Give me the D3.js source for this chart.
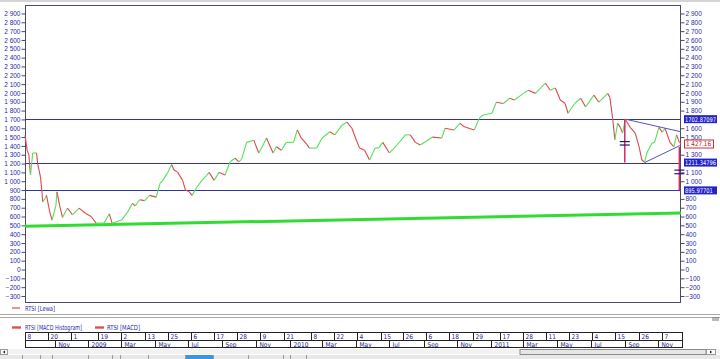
<!DOCTYPE html>
<html>
<head>
<meta charset="utf-8">
<script src="https://cdn.jsdelivr.net/npm/d3@7"></script>
<style>
body { margin: 0; background: #fff; overflow: hidden; }
svg { display: block; font-family: 'Liberation Sans Narrow', 'DejaVu Sans Condensed', 'Liberation Sans', sans-serif; }
</style>
</head>
<body>
<div id="chart"></div>
<script>
// RTSI daily
const priceDates = ["2008-09-08","2008-09-12","2008-09-15","2008-09-18","2008-09-22","2008-09-29","2008-10-01","2008-10-06","2008-10-09","2008-10-10","2008-10-14","2008-10-17","2008-10-23","2008-10-27","2008-11-03","2008-11-05","2008-11-10","2008-11-15","2008-11-24","2008-12-03","2008-12-15","2008-12-27","2009-01-06","2009-01-15","2009-01-29","2009-02-08","2009-02-13","2009-03-02","2009-03-13","2009-03-22","2009-03-27","2009-04-04","2009-04-13","2009-04-22","2009-05-04","2009-05-11","2009-05-16","2009-05-25","2009-06-01","2009-06-05","2009-06-12","2009-06-21","2009-06-26","2009-07-03","2009-07-08","2009-07-17","2009-07-26","2009-08-03","2009-08-08","2009-08-17","2009-08-26","2009-09-06","2009-09-15","2009-09-24","2009-10-01","2009-10-06","2009-10-15","2009-10-28","2009-11-06","2009-11-13","2009-11-20","2009-12-02","2009-12-08","2009-12-17","2009-12-26","2010-01-08","2010-01-15","2010-01-22","2010-02-01","2010-02-06","2010-02-19","2010-03-01","2010-03-15","2010-03-24","2010-04-06","2010-04-15","2010-04-24","2010-05-03","2010-05-08","2010-05-17","2010-05-26","2010-06-05","2010-06-12","2010-06-19","2010-07-01","2010-07-15","2010-07-30","2010-08-08","2010-08-17","2010-08-26","2010-09-05","2010-09-17","2010-10-04","2010-10-10","2010-10-26","2010-11-06","2010-11-13","2010-11-22","2010-12-02","2010-12-11","2010-12-18","2011-01-03","2011-01-11","2011-01-24","2011-02-04","2011-02-13","2011-03-01","2011-03-10","2011-03-23","2011-04-03","2011-04-10","2011-04-19","2011-04-28","2011-05-07","2011-05-16","2011-05-21","2011-06-02","2011-06-13","2011-06-22","2011-07-07","2011-07-16","2011-08-01","2011-08-05","2011-08-10","2011-08-14","2011-08-19","2011-08-24","2011-08-28","2011-09-02","2011-09-11","2011-09-20","2011-09-27","2011-10-02","2011-10-07","2011-10-11","2011-10-20","2011-10-25","2011-11-02","2011-11-08","2011-11-13","2011-11-22","2011-11-29","2011-12-04","2011-12-09","2011-12-12"]
const priceValues = [1520,1350,1300,1070,1320,1320,1200,1050,870,765,800,840,650,560,720,880,720,590,695,620,695,635,600,525,525,630,525,560,650,750,720,790,780,840,820,975,1010,1100,1190,1130,1100,1010,900,880,840,935,1010,1060,1100,1010,1100,1070,1220,1260,1220,1250,1440,1465,1320,1400,1490,1320,1390,1350,1440,1440,1580,1490,1420,1375,1375,1490,1560,1525,1635,1670,1600,1450,1375,1350,1240,1375,1380,1440,1320,1410,1525,1525,1440,1410,1450,1500,1490,1600,1580,1655,1620,1600,1580,1715,1750,1770,1895,1880,1940,1920,1995,2030,1995,2065,2110,2030,2055,1920,1880,1770,1880,1940,1840,1975,1895,1995,1950,1715,1470,1655,1610,1545,1700,1610,1545,1390,1240,1215,1320,1430,1440,1610,1555,1600,1440,1390,1525,1440,1427]

const yTicks = [-300,-200,-100,0,100,200,300,400,500,600,700,800,900,1000,1100,1200,1300,1400,1500,1600,1700,1800,1900,2000,2100,2200,2300,2400,2500,2600,2700,2800,2900]

const levelValues = [1702.87097, 1211.34796, 895.97701]
const levelLabels = ["1702.87097", "1211.34796", "895.97701"]
const lastPrice = 1427.16
const lastLabel = "1 427.16"

const supportDates = ["2008-09-08", "2011-12-12"]
const supportValues = [490, 640]
const upperDates = ["2011-09-02", "2011-12-12"]
const upperValues = [1702.87, 1560]
const lowerDates = ["2011-10-07", "2011-12-12"]
const lowerValues = [1211.35, 1410]
// pattern height and its projection below the breakout
const measureDates = ["2011-09-01", "2011-12-09"]
const measureFrom = [1702.87, 1387]
const measureTo = [1211.35, 895.98]
const measureMarks = [[1449, 1410], [1126, 1085]]

const dayTickDates = ["2008-09-08","2008-10-20","2008-12-01","2009-01-19","2009-03-02","2009-04-13","2009-05-25","2009-07-06","2009-08-17","2009-09-28","2009-11-09","2009-12-21","2010-02-08","2010-03-22","2010-05-04","2010-06-15","2010-07-26","2010-09-06","2010-10-18","2010-11-29","2011-01-17","2011-02-28","2011-04-11","2011-05-23","2011-07-04","2011-08-15","2011-09-26","2011-11-07"]
const dayTickLabels = ["8","20","1","19","2","13","25","6","17","28","9","21","8","22","4","15","26","6","18","29","17","28","11","23","4","15","26","7"]
const monthDates = ["2008-09-08","2008-11-01","2009-01-01","2009-03-01","2009-05-01","2009-07-01","2009-09-01","2009-11-01","2010-01-01","2010-03-01","2010-05-01","2010-07-01","2010-09-01","2010-11-01","2011-01-01","2011-03-01","2011-05-01","2011-07-01","2011-09-01","2011-11-01"]
const monthLabels = ["","Nov","2009","Mar","May","Jul","Sep","Nov","2010","Mar","May","Jul","Sep","Nov","2011","Mar","May","Jul","Sep","Nov"]

const legendTop = ["RTSI [Lewa]"]
const legendBottom = ["RTSI [MACD Histogram]", "RTSI [MACD]"]

const width = 720, height = 359
const plot = {left: 25, right: 680, top: 5, bottom: 302}
const parse = d3.timeParse("%Y-%m-%d")
const blueText = "#2a2aa8"

const svg = d3.select("#chart").append("svg")
    .attr("width", width).attr("height", height)

const x = d3.scaleTime()
    .domain([parse("2008-09-08"), parse("2011-12-12")])
    .range([plot.left, plot.right + 1])
const y = d3.scaleLinear()
    .domain([-368, 2996])
    .range([plot.bottom, plot.top])

// window edge on top
svg.append("rect").attr("x", 0).attr("y", 0).attr("width", width).attr("height", 2).attr("fill", "#d4d4d4")

svg.append("rect")
    .attr("x", plot.left + 0.5).attr("y", plot.top + 0.5)
    .attr("width", plot.right - plot.left).attr("height", plot.bottom - plot.top)
    .attr("fill", "#fff").attr("stroke", "#4b4b66")

const fmt = v => d3.format(",")(v).replace(",", " ")

// tick labels hidden behind the boxes on the right
const boxValues = levelValues.concat([lastPrice])
const hidden = v => boxValues.some(b => Math.abs(y(b) - y(v)) < 6)

const leftAxis = d3.axisLeft(y).tickValues(yTicks).tickSize(4).tickPadding(1).tickFormat(fmt)
const ga = svg.append("g").attr("transform", `translate(${plot.left + 0.5},0)`).call(leftAxis)
const rightAxis = d3.axisRight(y).tickValues(yTicks.filter(v => !hidden(v))).tickSize(4).tickPadding(1).tickFormat(fmt)
const gb = svg.append("g").attr("transform", `translate(${plot.right + 0.5},0)`).call(rightAxis)
;[ga, gb].forEach(g => {
    g.select(".domain").remove()
    g.selectAll(".tick line").attr("stroke", "#4b4b66")
    g.selectAll(".tick text").attr("fill", blueText).attr("font-size", 6.5).style("font-family", "inherit")
})

// support trend line
svg.append("line")
    .attr("x1", x(parse(supportDates[0]))).attr("y1", y(supportValues[0]))
    .attr("x2", x(parse(supportDates[1]))).attr("y2", y(supportValues[1]))
    .attr("stroke", "#30dc30").attr("stroke-width", 3)

// horizontal levels
svg.selectAll(".level").data(levelValues).enter().append("line")
    .attr("class", "level")
    .attr("x1", plot.left).attr("x2", plot.right)
    .attr("y1", d => Math.round(y(d)) + 0.5).attr("y2", d => Math.round(y(d)) + 0.5)
    .attr("stroke", "#3232a8").attr("stroke-width", 1)

// price, coloured up / down
const pts = priceDates.map((d, i) => ({date: parse(d), value: priceValues[i]}))
svg.append("g").selectAll("line").data(pts.slice(1)).enter().append("line")
    .attr("x1", (d, i) => x(pts[i].date)).attr("y1", (d, i) => y(pts[i].value))
    .attr("x2", d => x(d.date)).attr("y2", d => y(d.value))
    .attr("stroke", (d, i) => d.value >= pts[i].value ? "#58e058" : "#dc4a4a")
    .attr("stroke-width", 1.1)

// triangle
;[[upperDates, upperValues], [lowerDates, lowerValues]].forEach(([ds, vs]) => {
    svg.append("line")
        .attr("x1", x(parse(ds[0]))).attr("y1", y(vs[0]))
        .attr("x2", x(parse(ds[1]))).attr("y2", y(vs[1]))
        .attr("stroke", "#5454c4").attr("stroke-width", 1)
})

// measuring lines
measureDates.forEach((d, i) => {
    const xx = x(parse(d))
    svg.append("line")
        .attr("x1", xx).attr("x2", xx)
        .attr("y1", y(measureFrom[i])).attr("y2", y(measureTo[i]))
        .attr("stroke", "#d82a62").attr("stroke-width", 1.5)
    measureMarks[i].forEach(m => {
        svg.append("line")
            .attr("x1", xx - 5).attr("x2", xx + 5)
            .attr("y1", y(m)).attr("y2", y(m))
            .attr("stroke", "#1a1a80").attr("stroke-width", 1.2)
    })
})

// level labels on the right axis
levelValues.forEach((v, i) => {
    const yy = y(v)
    svg.append("rect").attr("x", 684).attr("y", yy - 4).attr("width", 33).attr("height", 8).attr("fill", "#2323c8")
    svg.append("text").attr("x", 685).attr("y", yy + 2.5).attr("fill", "#fff").attr("font-size", 6.5)
        .attr("textLength", levelLabels[i].length * 3.1).attr("lengthAdjust", "spacingAndGlyphs").text(levelLabels[i])
})
svg.append("rect").attr("x", 684.5).attr("y", y(lastPrice) - 3.5).attr("width", 29).attr("height", 8)
    .attr("fill", "#fff").attr("stroke", "#d03030")
svg.append("text").attr("x", 686).attr("y", y(lastPrice) + 2.8).attr("fill", "#b02020").attr("font-size", 6.5)
    .attr("textLength", 25).attr("lengthAdjust", "spacingAndGlyphs").text(lastLabel)

// legends
svg.append("line").attr("x1", 12).attr("x2", 20).attr("y1", 308).attr("y2", 308).attr("stroke", "#e04848").attr("stroke-width", 1.2)
svg.append("text").attr("x", 25).attr("y", 310.5).attr("fill", blueText).attr("font-size", 7)
    .attr("textLength", 30).attr("lengthAdjust", "spacingAndGlyphs").text(legendTop[0])

svg.append("line").attr("x1", 0).attr("x2", width).attr("y1", 314.5).attr("y2", 314.5).attr("stroke", "#a8a8a8")
svg.append("line").attr("x1", 0).attr("x2", width).attr("y1", 317.5).attr("y2", 317.5).attr("stroke", "#a8a8a8")
svg.append("line").attr("x1", 712).attr("x2", 719).attr("y1", 318).attr("y2", 318).attr("stroke", "#777")
svg.append("line").attr("x1", 712).attr("x2", 719).attr("y1", 320).attr("y2", 320).attr("stroke", "#777")

const legX = [[12, 25, 57], [95, 107, 33]]
legendBottom.forEach((t, i) => {
    svg.append("line").attr("x1", legX[i][0]).attr("x2", legX[i][0] + 9).attr("y1", 327.5).attr("y2", 327.5)
        .attr("stroke", "#e05050").attr("stroke-width", 2.4)
    svg.append("text").attr("x", legX[i][1]).attr("y", 330).attr("fill", blueText).attr("font-size", 7)
        .attr("textLength", legX[i][2]).attr("lengthAdjust", "spacingAndGlyphs").text(t)
})

// date axis (two rows)
const axisEnd = 682
const dg = svg.append("g")
dg.append("rect").attr("x", plot.left + 0.5).attr("y", 332.5).attr("width", axisEnd - plot.left).attr("height", 15)
    .attr("fill", "#fff").attr("stroke", "#222")
dg.append("line").attr("x1", plot.left).attr("x2", axisEnd).attr("y1", 340.5).attr("y2", 340.5).attr("stroke", "#222")
dayTickDates.forEach((d, i) => {
    const xx = Math.round(x(parse(d))) + 0.5
    dg.append("line").attr("x1", xx).attr("x2", xx).attr("y1", 332).attr("y2", 340).attr("stroke", "#222")
    dg.append("text").attr("x", xx + 2).attr("y", 339).attr("fill", "#22228a").attr("font-size", 6.5).text(dayTickLabels[i])
})
monthDates.forEach((d, i) => {
    const xx = Math.round(x(parse(d))) + 0.5
    dg.append("line").attr("x1", xx).attr("x2", xx).attr("y1", 340).attr("y2", 348).attr("stroke", "#222")
    dg.append("text").attr("x", xx + 3).attr("y", 347).attr("fill", "#22228a").attr("font-size", 6.5).text(monthLabels[i])
})

// scroll bar
svg.append("rect").attr("x", 0).attr("y", 349).attr("width", width).attr("height", 5).attr("fill", "#f2f2f2")
svg.append("rect").attr("x", 520).attr("y", 349.5).attr("width", 186).attr("height", 5).attr("fill", "#e6e6e6").attr("stroke", "#8a8a8a")
svg.append("rect").attr("x", 0.5).attr("y", 349.5).attr("width", 7).attr("height", 5).attr("fill", "#fafafa").attr("stroke", "#9a9a9a")
svg.append("rect").attr("x", 706.5).attr("y", 349.5).attr("width", 9).attr("height", 5).attr("fill", "#fafafa").attr("stroke", "#9a9a9a")
svg.append("path").attr("d", "M5,350.5 L3,352 L5,353.5 Z").attr("fill", "#111")
svg.append("path").attr("d", "M710,350.5 L712,352 L710,353.5 Z").attr("fill", "#111")

// sheet tabs, cut off by the window
svg.append("rect").attr("x", 0).attr("y", 355).attr("width", width).attr("height", 4).attr("fill", "#e8e8e8")
const tabEdges = [22, 40, 52, 88, 112, 120, 148, 185, 213, 248, 283, 290, 306]
tabEdges.forEach(t => {
    svg.append("line").attr("x1", t + 0.5).attr("x2", t + 0.5).attr("y1", 355).attr("y2", 359).attr("stroke", "#9a9a9a")
})
svg.append("rect").attr("x", 186).attr("y", 355).attr("width", 27).attr("height", 4).attr("fill", "#3a96e0")
</script>
</body>
</html>
